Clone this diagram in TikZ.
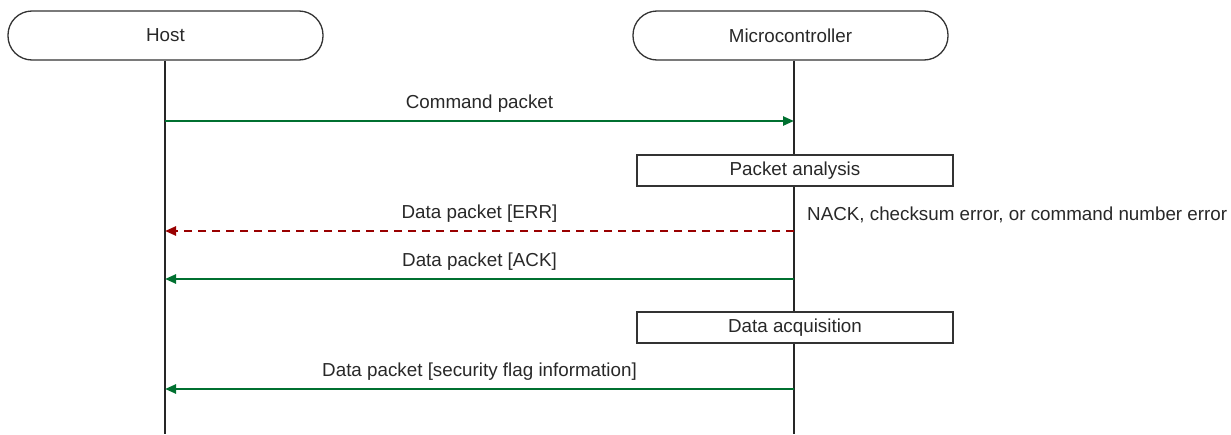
\documentclass[tikz,border=0pt]{standalone}
\usepackage{fontspec}
\setmainfont{Liberation Sans}
\usepackage{xcolor}
\usepackage{tikz}
\usetikzlibrary{arrows.meta}

\definecolor{msggreen}{RGB}{0,112,48}
\definecolor{errred}{RGB}{153,0,0}
\definecolor{txtgray}{RGB}{40,40,40}

\tikzset{
  actor/.style={draw=black!80,line width=1.3pt,rounded corners=24pt,minimum width=315pt,minimum height=49pt,text=txtgray,inner sep=0pt},
  taskbox/.style={draw=black!80,line width=1.3pt,minimum width=316pt,minimum height=31pt,text=txtgray,inner sep=0pt},
  lifeline/.style={black!85,line width=1.3pt},
  msg/.style={msggreen,line width=2.4pt,-{Triangle[length=11pt,width=9pt]}},
  errmsg/.style={errred,line width=2.4pt,dash pattern=on 8pt off 6pt,-{Triangle[length=11pt,width=9pt]}},
  lbl/.style={text=txtgray,inner sep=0pt}
}

\begin{document}
\begin{tikzpicture}[x=1pt,y=-1pt,font=\fontsize{18.8}{22}\selectfont]
\useasboundingbox (0,0) rectangle (1231,434);
%\draw (0,0) grid (1231,434);
% participants
\node[actor] (host) at (165.5,35.5) {Host};
\node[actor] (mcu) at (790.5,35.5) {Microcontroller};
\coordinate (hostend) at (165,434);
\coordinate (mcuend) at (794,434);
\draw[lifeline] (host.south -| hostend)--(hostend);
\draw[lifeline] (mcu.south -| mcuend)--(mcuend);
% tasks
\node[taskbox,fill=white] (analysis) at (795,170.5) {Packet analysis};
\node[taskbox,fill=white] (acquire) at (795,327.5) {Data acquisition};
% messages
\coordinate (h1) at (165,121); \coordinate (m1) at (794,121);
\coordinate (h2) at (165,231); \coordinate (m2) at (794,231);
\coordinate (h3) at (165,279); \coordinate (m3) at (794,279);
\coordinate (h4) at (165,389); \coordinate (m4) at (794,389);
\draw[msg] (h1)--(m1) node[lbl,midway,above=7pt] {Command packet};
\draw[errmsg] (m2)--(h2) node[lbl,midway,above=7pt] {Data packet [ERR]};
\draw[msg] (m3)--(h3) node[lbl,midway,above=7pt] {Data packet [ACK]};
\draw[msg] (m4)--(h4) node[lbl,midway,above=7pt] {Data packet [security flag information]};
\node[lbl,anchor=west] (nack) at (807,215) {NACK, checksum error, or command number error};
\end{tikzpicture}
\end{document}
